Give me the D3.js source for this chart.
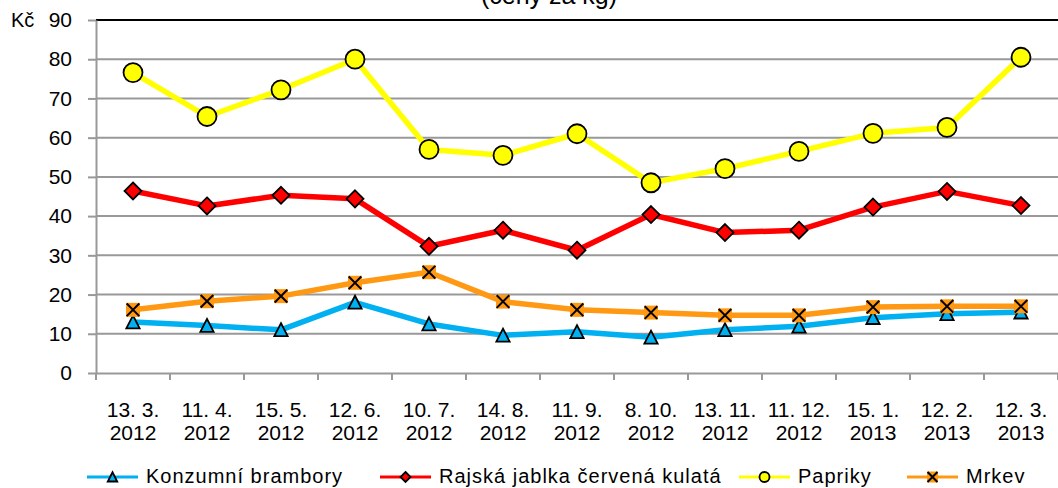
<!DOCTYPE html>
<html><head><meta charset="utf-8">
<script src="https://cdn.jsdelivr.net/npm/d3@7"></script>
<style>
html,body{margin:0;padding:0;background:#fff;overflow:hidden}
svg{display:block;font-family:"Liberation Sans",Arial,sans-serif}
</style></head>
<body>
<svg id="c" width="1058" height="488"></svg>
<script>
const categories = [["13. 3.","2012"],["11. 4.","2012"],["15. 5.","2012"],["12. 6.","2012"],["10. 7.","2012"],["14. 8.","2012"],["11. 9.","2012"],["8. 10.","2012"],["13. 11.","2012"],["11. 12.","2012"],["15. 1.","2013"],["12. 2.","2013"],["12. 3.","2013"]];
const brambory = [13.0,12.1,11.0,18.0,12.5,9.6,10.5,9.1,11.0,11.9,14.1,15.1,15.5];
const rajska   = [46.4,42.6,45.3,44.4,32.3,36.4,31.3,40.4,35.8,36.4,42.3,46.3,42.7];
const papriky  = [76.6,65.4,72.2,80.0,57.0,55.5,61.0,48.5,52.1,56.5,61.1,62.6,80.5];
const mrkev    = [16.1,18.3,19.6,23.0,25.7,18.2,16.1,15.4,14.7,14.7,16.8,17.0,17.0];
const yTicks = [0,10,20,30,40,50,60,70,80,90];
const seriesNames = ["Konzumní brambory","Rajská jablka červená kulatá","Papriky","Mrkev"];
const titleText = "(ceny za kg)";
const unitText = "Kč";

const series = [
  {name: seriesNames[0], values: brambory, color: "#00b0f0", marker: "triangle", fill: "#00b0f0"},
  {name: seriesNames[1], values: rajska,   color: "#ff0000", marker: "diamond",  fill: "#ff0000"},
  {name: seriesNames[2], values: papriky,  color: "#ffff00", marker: "circle",   fill: "#ffff00"},
  {name: seriesNames[3], values: mrkev,    color: "#ff9914", marker: "x",        fill: "#ff9914"}
];

const svg = d3.select("#c");
const L = 96, R = 1058, T = 20, B = 373;
const keys = categories.map(c => c.join(" "));
const x = d3.scaleBand().domain(keys).range([L, R]).paddingInner(0).paddingOuter(0);
const y = d3.scaleLinear().domain([0, 90]).range([B, T]);
const FS = 21;

// title (mostly cut off at top)
svg.append("text").attr("x", 549).attr("y", 4).attr("text-anchor", "middle")
  .attr("font-size", 25).attr("fill", "#000").text(titleText);

// gridlines
const grid = svg.append("g");
grid.selectAll("line").data(yTicks.filter(v => v > 0)).join("line")
  .attr("x1", L).attr("x2", R).attr("y1", d => y(d)).attr("y2", d => y(d))
  .attr("stroke", d => d === 90 ? "#000" : "#999").attr("stroke-width", 2);

// y axis
const yAxis = svg.append("g").attr("transform", `translate(${L},0)`)
  .call(d3.axisLeft(y).tickValues(yTicks).tickSize(8).tickPadding(16).tickSizeOuter(0));
yAxis.select(".domain").attr("stroke", "#999").attr("stroke-width", 2);
yAxis.selectAll(".tick line").attr("stroke", "#999").attr("stroke-width", 2);
yAxis.selectAll(".tick text").attr("font-size", FS).attr("fill", "#000")
  .attr("font-family", "Liberation Sans, Arial, sans-serif");
svg.append("text").attr("x", 11).attr("y", y(90)).attr("dy", "0.35em")
  .attr("font-size", FS - 1).attr("fill", "#000").text(unitText);

// x axis
const xAxis = svg.append("g").attr("transform", `translate(0,${B})`)
  .call(d3.axisBottom(x).tickSize(0).tickPadding(0).tickSizeOuter(0));
xAxis.select(".domain").attr("stroke", "#999").attr("stroke-width", 2);
xAxis.selectAll(".tick text").each(function(d, i) {
  const t = d3.select(this).text(null).attr("font-size", FS).attr("fill", "#000")
    .attr("font-family", "Liberation Sans, Arial, sans-serif").attr("y", 0).attr("dy", null);
  t.append("tspan").attr("x", 0).attr("y", 44).text(categories[i][0]);
  t.append("tspan").attr("x", 0).attr("y", 67).text(categories[i][1]);
});
const bounds = keys.map(k => x(k)).concat([R]);
svg.append("g").selectAll("line").data(bounds).join("line")
  .attr("x1", d => d).attr("x2", d => d).attr("y1", B).attr("y2", B + 7)
  .attr("stroke", "#999").attr("stroke-width", 2);

function drawMarker(g, type, fill, cx, cy, s) {
  if (type === "circle") {
    g.append("circle").attr("cx", cx).attr("cy", cy).attr("r", s)
      .attr("fill", fill).attr("stroke", "#000").attr("stroke-width", 1.8);
  } else if (type === "diamond") {
    g.append("path").attr("d", `M${cx},${cy-s}L${cx+s},${cy}L${cx},${cy+s}L${cx-s},${cy}Z`)
      .attr("fill", fill).attr("stroke", "#000").attr("stroke-width", 1.8);
  } else if (type === "triangle") {
    const h = s * 0.95;
    g.append("path").attr("d", `M${cx},${cy-h}L${cx+s*0.95},${cy+h*0.95}L${cx-s*0.95},${cy+h*0.95}Z`)
      .attr("fill", fill).attr("stroke", "#000").attr("stroke-width", 1.8);
  } else if (type === "x") {
    g.append("rect").attr("x", cx - s).attr("y", cy - s).attr("width", 2*s).attr("height", 2*s)
      .attr("fill", fill);
    const a = s * 0.9;
    g.append("path").attr("d", `M${cx-a},${cy-a}L${cx+a},${cy+a}M${cx-a},${cy+a}L${cx+a},${cy-a}`)
      .attr("stroke", "#000").attr("stroke-width", 2).attr("fill", "none");
  }
}

const sizes = {circle: 9.5, diamond: 8.5, triangle: 7, x: 7};
const line = d3.line().x((d, i) => x(keys[i]) + x.bandwidth()/2).y(d => y(d));
series.forEach(s => {
  const g = svg.append("g");
  g.append("path").datum(s.values).attr("d", line).attr("fill", "none")
    .attr("stroke", s.color).attr("stroke-width", 5.5).attr("stroke-linejoin", "round");
  s.values.forEach((v, i) => drawMarker(g, s.marker, s.fill, x(keys[i]) + x.bandwidth()/2, y(v), sizes[s.marker]));
});

// legend
const legX = [87, 380, 739, 907];
const legSizes = {circle: 5, diamond: 5, triangle: 5, x: 5.5};
const ly = 477;
series.forEach((s, i) => {
  const g = svg.append("g");
  const x0 = legX[i];
  g.append("line").attr("x1", x0).attr("x2", x0 + 51).attr("y1", ly).attr("y2", ly)
    .attr("stroke", s.color).attr("stroke-width", 3);
  drawMarker(g, s.marker, s.fill, x0 + 25.5, ly, legSizes[s.marker]);
  g.append("text").attr("x", x0 + 59).attr("y", 483).attr("font-size", 20)
    .attr("letter-spacing", 1).attr("fill", "#000").text(s.name);
});
</script>
</body></html>
